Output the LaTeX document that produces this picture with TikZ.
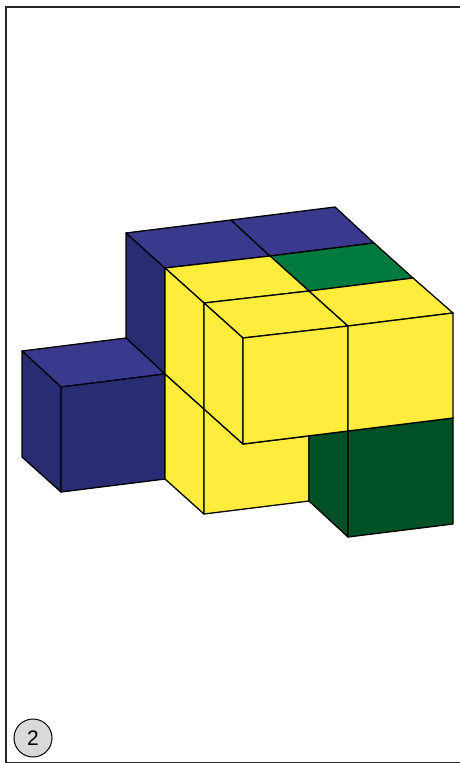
\documentclass[tikz,border=0pt]{standalone}
\usepackage{fontspec}
\setmainfont{Liberation Sans}
\definecolor{bluetop}{HTML}{393A8E}
\definecolor{blueside}{HTML}{2A2C73}
\definecolor{greentop}{HTML}{007A3D}
\definecolor{greenside}{HTML}{005226}
\definecolor{cubeyellow}{HTML}{FFEC3D}
\definecolor{badgegrey}{HTML}{D9D9D9}
\begin{document}
\begin{tikzpicture}[
        x=1pt, y=-1pt,
        face/.style={draw=black, line width=1.3pt, line join=round},
        badge/.style={
        circle, draw=black, line width=1pt,
        inner sep=0pt, minimum size=38pt,
        fill=badgegrey, font=\fontsize{21}{21}\selectfont},
        ]
        \useasboundingbox (0,0) rectangle (460,763);

        \draw [line width=1.2pt, black!85] (462,7) -- (6,7) -- (6,762.5) -- (462,762.5);

        % blue
        \draw [face, fill=blueside] (126,233) -- (165,268) -- (165,374) -- (126,338) -- cycle;
        \draw [face, fill=bluetop] (126,338) -- (165,374) -- (61,387) -- (22,351) -- cycle;
        \draw [face, fill=blueside] (22,351) -- (61,387) -- (61,492) -- (22,457) -- cycle;
        \draw [face, fill=blueside] (61,387) -- (165,374) -- (165,479) -- (61,492) -- cycle;
        \draw [face, fill=bluetop] (126,233) -- (231,220) -- (270,256) -- (165,268) -- cycle;
        \draw [face, fill=bluetop] (231,220) -- (335,207) -- (374,243) -- (270,256) -- cycle;

        % top row
        \draw [face, fill=greentop] (270,256) -- (374,243) -- (413,278) -- (309,291) -- cycle;
        \draw [face, fill=cubeyellow] (165,268) -- (270,256) -- (309,291) -- (204,303) -- cycle;
        \draw [face, fill=cubeyellow] (204,303) -- (309,291) -- (348,326) -- (243,338) -- cycle;
        \draw [face, fill=cubeyellow] (309,291) -- (413,278) -- (453,313) -- (348,326) -- cycle;

        % lower part
        \draw [face, fill=cubeyellow] (165,374) -- (204,409) -- (204,514) -- (165,479) -- cycle;
        \draw [face, fill=cubeyellow] (204,409) -- (243,444) -- (309,436) -- (309,501) -- (204,514) -- cycle;
        \draw [face, fill=greenside] (309,436) -- (348,431) -- (348,537) -- (309,501) -- cycle;
        \draw [face, fill=greenside] (348,431) -- (453,418) -- (453,524) -- (348,537) -- cycle;

        % left and front
        \draw [face, fill=cubeyellow] (165,268) -- (204,303) -- (204,409) -- (165,374) -- cycle;
        \draw [face, fill=cubeyellow] (204,303) -- (243,338) -- (243,444) -- (204,409) -- cycle;
        \draw [face, fill=cubeyellow] (243,338) -- (348,326) -- (348,431) -- (243,444) -- cycle;
        \draw [face, fill=cubeyellow] (348,326) -- (453,313) -- (453,418) -- (348,431) -- cycle;

        \node (num) [badge] at (33,738){2};
    \end{tikzpicture}
\end{document}
